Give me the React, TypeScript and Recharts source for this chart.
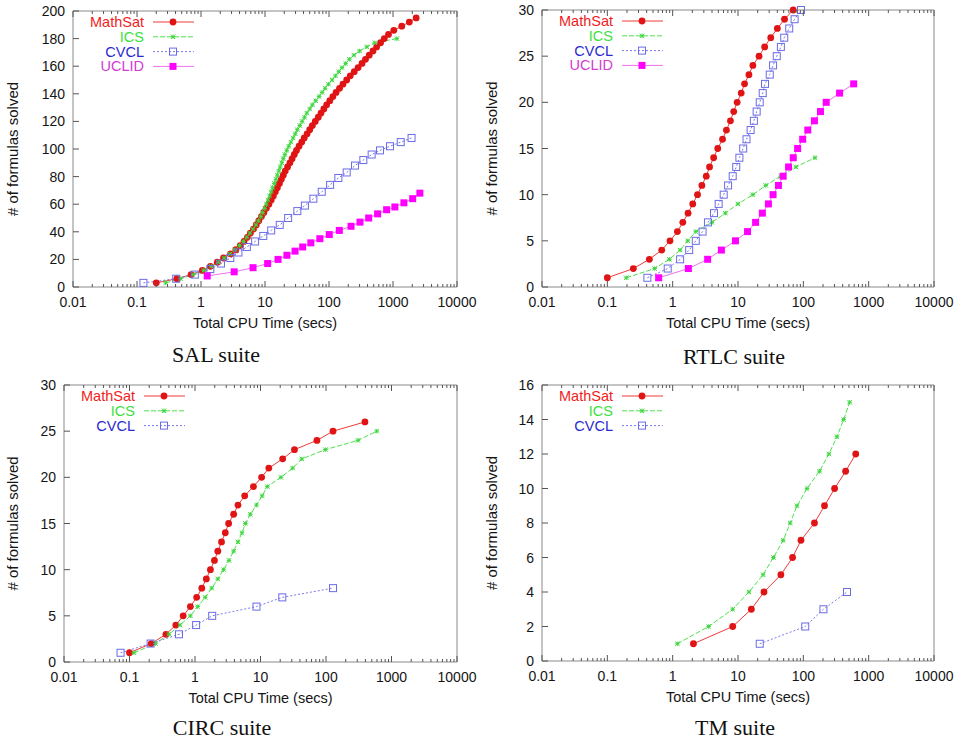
import React from 'react';
import { LineChart, Line, XAxis, YAxis } from 'recharts';

// ---------- tick labels ----------
const X_MAJOR = [0.01, 0.1, 1, 10, 100, 1000, 10000];
const X_MINOR_MULT = [2, 3, 4, 5, 6, 7, 8, 9];
const SAL_Y = [0, 20, 40, 60, 80, 100, 120, 140, 160, 180, 200];
const RTLC_Y = [0, 5, 10, 15, 20, 25, 30];
const CIRC_Y = [0, 5, 10, 15, 20, 25, 30];
const TM_Y = [0, 2, 4, 6, 8, 10, 12, 14, 16];

const X_LABEL = 'Total CPU Time (secs)';
const Y_LABEL = '# of formulas solved';
const TITLES = ['SAL suite', 'RTLC suite', 'CIRC suite', 'TM suite'];

type P = { t: number; n: number };

// ---------- SAL suite ----------
const salMathSat: P[] = [
  { t: 0.2, n: 3 }, { t: 0.42, n: 6 }, { t: 0.7, n: 9 }, { t: 1.05, n: 12 }, { t: 1.4, n: 15 },
  { t: 1.8, n: 18 }, { t: 2.25, n: 21 }, { t: 2.9, n: 24 }, { t: 3.5, n: 27 }, { t: 4.1, n: 30 },
  { t: 4.7, n: 33 }, { t: 5.3, n: 36 }, { t: 5.9, n: 39 }, { t: 6.6, n: 42 }, { t: 7.3, n: 45 },
  { t: 8.0, n: 48 }, { t: 8.8, n: 51 }, { t: 9.6, n: 54 }, { t: 10.5, n: 57 }, { t: 11.5, n: 60 },
  { t: 12.5, n: 63 }, { t: 13.5, n: 66 }, { t: 14.5, n: 69 }, { t: 15.6, n: 72 }, { t: 16.8, n: 75 },
  { t: 18, n: 78 }, { t: 19.3, n: 81 }, { t: 20.7, n: 84 }, { t: 22.5, n: 87 }, { t: 24.5, n: 90 },
  { t: 26.5, n: 93 }, { t: 28.7, n: 96 }, { t: 31, n: 99 }, { t: 34, n: 102 }, { t: 37.5, n: 105 },
  { t: 41, n: 108 }, { t: 45.5, n: 111 }, { t: 50, n: 114 }, { t: 55, n: 117 }, { t: 61, n: 120 },
  { t: 68, n: 123 }, { t: 75, n: 126 }, { t: 83, n: 129 }, { t: 92, n: 132 }, { t: 103, n: 135 },
  { t: 115, n: 138 }, { t: 129, n: 141 }, { t: 146, n: 144 }, { t: 165, n: 147 }, { t: 189, n: 150 },
  { t: 215, n: 153 }, { t: 248, n: 156 }, { t: 285, n: 159 }, { t: 328, n: 162 }, { t: 372, n: 165 },
  { t: 425, n: 168 }, { t: 487, n: 171 }, { t: 555, n: 174 }, { t: 640, n: 177 }, { t: 730, n: 180 },
  { t: 850, n: 183 }, { t: 1030, n: 186 }, { t: 1370, n: 189 }, { t: 1800, n: 192 }, { t: 2300, n: 195 },
];
const salICS: P[] = [
  { t: 0.28, n: 3 }, { t: 0.48, n: 6 }, { t: 0.75, n: 9 }, { t: 1.1, n: 12 }, { t: 1.45, n: 15 },
  { t: 1.85, n: 18 }, { t: 2.3, n: 21 }, { t: 2.85, n: 24 }, { t: 3.4, n: 27 }, { t: 4.0, n: 30 },
  { t: 4.6, n: 33 }, { t: 5.2, n: 36 }, { t: 5.8, n: 39 }, { t: 6.5, n: 42 }, { t: 7.2, n: 45 },
  { t: 7.9, n: 48 }, { t: 8.6, n: 51 }, { t: 9.2, n: 54 }, { t: 9.9, n: 57 }, { t: 10.5, n: 60 },
  { t: 11.1, n: 63 }, { t: 11.8, n: 66 }, { t: 12.5, n: 69 }, { t: 13.2, n: 72 }, { t: 14.0, n: 75 },
  { t: 14.8, n: 78 }, { t: 15.6, n: 81 }, { t: 16.4, n: 84 }, { t: 17.3, n: 87 }, { t: 18.3, n: 90 },
  { t: 19.3, n: 93 }, { t: 20.5, n: 96 }, { t: 21.9, n: 99 }, { t: 23.5, n: 102 }, { t: 25.4, n: 105 },
  { t: 27.5, n: 108 }, { t: 29.7, n: 111 }, { t: 32, n: 114 }, { t: 35, n: 117 }, { t: 38, n: 120 },
  { t: 41.5, n: 123 }, { t: 45, n: 126 }, { t: 50, n: 129 }, { t: 55, n: 132 }, { t: 62, n: 135 },
  { t: 70, n: 138 }, { t: 78, n: 141 }, { t: 87, n: 144 }, { t: 98, n: 147 }, { t: 112, n: 150 },
  { t: 126, n: 153 }, { t: 142, n: 156 }, { t: 160, n: 159 }, { t: 182, n: 162 }, { t: 208, n: 165 },
  { t: 245, n: 168 }, { t: 300, n: 171 }, { t: 390, n: 174 }, { t: 520, n: 177 }, { t: 1150, n: 180 },
];
const salCVCL: P[] = [
  { t: 0.126, n: 3 }, { t: 0.41, n: 6 }, { t: 0.8, n: 9 }, { t: 1.4, n: 13 }, { t: 2.05, n: 17 },
  { t: 2.87, n: 21 }, { t: 3.85, n: 25 }, { t: 5.2, n: 29 }, { t: 7.0, n: 33 }, { t: 9.4, n: 37 },
  { t: 12.5, n: 41 }, { t: 17, n: 45 }, { t: 23, n: 50 }, { t: 32, n: 55 }, { t: 42, n: 59 },
  { t: 57, n: 64 }, { t: 77, n: 69 }, { t: 104, n: 74 }, { t: 140, n: 79 }, { t: 189, n: 83 },
  { t: 255, n: 88 }, { t: 344, n: 92 }, { t: 464, n: 96 }, { t: 627, n: 99 }, { t: 898, n: 102 },
  { t: 1320, n: 105 }, { t: 1950, n: 108 },
];
const salUCLID: P[] = [
  { t: 1.25, n: 8 }, { t: 3.3, n: 11 }, { t: 6.5, n: 14 }, { t: 11, n: 17 }, { t: 16, n: 20 },
  { t: 22, n: 23 }, { t: 29.5, n: 26 }, { t: 38.8, n: 29 }, { t: 52, n: 32 }, { t: 72, n: 35 },
  { t: 101, n: 38 }, { t: 145, n: 41 }, { t: 221, n: 44 }, { t: 305, n: 47 }, { t: 417, n: 50 },
  { t: 575, n: 53 }, { t: 795, n: 56 }, { t: 1070, n: 58 }, { t: 1480, n: 61 }, { t: 2030, n: 64 },
  { t: 2630, n: 68 },
];

// ---------- RTLC suite ----------
const rtlcMathSat: P[] = [
  { t: 0.1, n: 1 }, { t: 0.25, n: 2 }, { t: 0.44, n: 3 }, { t: 0.68, n: 4 }, { t: 0.91, n: 5 },
  { t: 1.18, n: 6 }, { t: 1.43, n: 7 }, { t: 1.72, n: 8 }, { t: 2.03, n: 9 }, { t: 2.4, n: 10 },
  { t: 2.8, n: 11 }, { t: 3.27, n: 12 }, { t: 3.67, n: 13 }, { t: 4.24, n: 14 }, { t: 4.9, n: 15 },
  { t: 5.8, n: 16 }, { t: 6.65, n: 17 }, { t: 7.66, n: 18 }, { t: 8.6, n: 19 }, { t: 9.7, n: 20 },
  { t: 11.2, n: 21 }, { t: 12.6, n: 22 }, { t: 14.7, n: 23 }, { t: 16.9, n: 24 }, { t: 21, n: 25 },
  { t: 25.6, n: 26 }, { t: 31.7, n: 27 }, { t: 40, n: 28 }, { t: 51.5, n: 29 }, { t: 70, n: 30 },
];
const rtlcICS: P[] = [
  { t: 0.195, n: 1 }, { t: 0.53, n: 2 }, { t: 0.89, n: 3 }, { t: 1.3, n: 4 }, { t: 1.7, n: 5 },
  { t: 2.26, n: 6 }, { t: 4.0, n: 7 }, { t: 6.4, n: 8 }, { t: 10, n: 9 }, { t: 16.9, n: 10 },
  { t: 26.6, n: 11 }, { t: 45, n: 12 }, { t: 77, n: 13 }, { t: 151, n: 14 },
];
const rtlcCVCL: P[] = [
  { t: 0.41, n: 1 }, { t: 0.84, n: 2 }, { t: 1.3, n: 3 }, { t: 1.79, n: 4 }, { t: 2.26, n: 5 },
  { t: 2.87, n: 6 }, { t: 3.47, n: 7 }, { t: 4.29, n: 8 }, { t: 5.06, n: 9 }, { t: 6.04, n: 10 },
  { t: 7.05, n: 11 }, { t: 8.3, n: 12 }, { t: 9.4, n: 13 }, { t: 10.5, n: 14 }, { t: 12, n: 15 },
  { t: 13.5, n: 16 }, { t: 15.6, n: 17 }, { t: 17.5, n: 18 }, { t: 19.3, n: 19 }, { t: 21.5, n: 20 },
  { t: 23.9, n: 21 }, { t: 25.9, n: 22 }, { t: 30.6, n: 23 }, { t: 34.4, n: 24 }, { t: 39.2, n: 25 },
  { t: 45.3, n: 26 }, { t: 51, n: 27 }, { t: 60.8, n: 28 }, { t: 73.5, n: 29 }, { t: 92, n: 30 },
];
const rtlcUCLID: P[] = [
  { t: 0.61, n: 1 }, { t: 1.74, n: 2 }, { t: 3.43, n: 3 }, { t: 5.57, n: 4 }, { t: 9.15, n: 5 },
  { t: 14, n: 6 }, { t: 18.6, n: 7 }, { t: 23.6, n: 8 }, { t: 29.2, n: 9 }, { t: 34.4, n: 10 },
  { t: 41.6, n: 11 }, { t: 49.1, n: 12 }, { t: 59.4, n: 13 }, { t: 70.1, n: 14 }, { t: 81.8, n: 15 },
  { t: 97.7, n: 16 }, { t: 117, n: 17 }, { t: 148, n: 18 }, { t: 183, n: 19 }, { t: 224, n: 20 },
  { t: 359, n: 21 }, { t: 590, n: 22 },
];

// ---------- CIRC suite ----------
const circMathSat: P[] = [
  { t: 0.1, n: 1 }, { t: 0.215, n: 2 }, { t: 0.36, n: 3 }, { t: 0.51, n: 4 }, { t: 0.66, n: 5 },
  { t: 0.85, n: 6 }, { t: 1.06, n: 7 }, { t: 1.27, n: 8 }, { t: 1.49, n: 9 }, { t: 1.72, n: 10 },
  { t: 1.98, n: 11 }, { t: 2.23, n: 12 }, { t: 2.54, n: 13 }, { t: 2.9, n: 14 }, { t: 3.26, n: 15 },
  { t: 3.89, n: 16 }, { t: 4.53, n: 17 }, { t: 5.74, n: 18 }, { t: 7.8, n: 19 }, { t: 10.4, n: 20 },
  { t: 13.4, n: 21 }, { t: 21.8, n: 22 }, { t: 33, n: 23 }, { t: 72.7, n: 24 }, { t: 128, n: 25 },
  { t: 393, n: 26 },
];
const circICS: P[] = [
  { t: 0.117, n: 1 }, { t: 0.25, n: 2 }, { t: 0.4, n: 3 }, { t: 0.59, n: 4 }, { t: 0.85, n: 5 },
  { t: 1.1, n: 6 }, { t: 1.43, n: 7 }, { t: 1.8, n: 8 }, { t: 2.23, n: 9 }, { t: 2.73, n: 10 },
  { t: 3.3, n: 11 }, { t: 3.89, n: 12 }, { t: 4.53, n: 13 }, { t: 5.22, n: 14 }, { t: 5.88, n: 15 },
  { t: 7.0, n: 16 }, { t: 8.68, n: 17 }, { t: 10.6, n: 18 }, { t: 12.7, n: 19 }, { t: 20.5, n: 20 },
  { t: 31, n: 21 }, { t: 42.7, n: 22 }, { t: 97.7, n: 23 }, { t: 307, n: 24 }, { t: 595, n: 25 },
];
const circCVCL: P[] = [
  { t: 0.073, n: 1 }, { t: 0.21, n: 2 }, { t: 0.57, n: 3 }, { t: 1.04, n: 4 }, { t: 1.83, n: 5 },
  { t: 8.68, n: 6 }, { t: 21.5, n: 7 }, { t: 128, n: 8 },
];

// ---------- TM suite ----------
const tmMathSat: P[] = [
  { t: 2.08, n: 1 }, { t: 8.3, n: 2 }, { t: 16, n: 3 }, { t: 25, n: 4 }, { t: 45.3, n: 5 },
  { t: 68.4, n: 6 }, { t: 92, n: 7 }, { t: 148, n: 8 }, { t: 211, n: 9 }, { t: 301, n: 10 },
  { t: 444, n: 11 }, { t: 634, n: 12 },
];
const tmICS: P[] = [
  { t: 1.18, n: 1 }, { t: 3.55, n: 2 }, { t: 8.3, n: 3 }, { t: 14.7, n: 4 }, { t: 24.2, n: 5 },
  { t: 34.9, n: 6 }, { t: 49.2, n: 7 }, { t: 63, n: 8 }, { t: 80, n: 9 }, { t: 114, n: 10 },
  { t: 177, n: 11 }, { t: 246, n: 12 }, { t: 327, n: 13 }, { t: 414, n: 14 }, { t: 512, n: 15 },
];
const tmCVCL: P[] = [
  { t: 21.5, n: 1 }, { t: 107, n: 2 }, { t: 203, n: 3 }, { t: 466, n: 4 },
];

// ---------- styles ----------
type Kind = 'circle' | 'star' | 'open' | 'square';
const STYLES: Record<string, { line: string; text: string; mark: string; kind: Kind; dash?: string }> = {
  MathSat: { line: '#f03a3a', text: '#f01c1c', mark: '#e01414', kind: 'circle' },
  ICS: { line: '#4fe04f', text: '#3ee03e', mark: '#3ed63e', kind: 'star', dash: '5 2' },
  CVCL: { line: '#7a7aee', text: '#2a2ad0', mark: '#6b6be6', kind: 'open', dash: '2 2' },
  UCLID: { line: '#f070f0', text: '#d43ad4', mark: '#ff00ff', kind: 'square' },
};

const Marker = ({ kind, cx, cy, color }: { kind: Kind; cx: number; cy: number; color: string }) => {
  if (cx == null || cy == null || isNaN(cx) || isNaN(cy)) return null;
  if (kind === 'circle') return <circle cx={cx} cy={cy} r={3.4} fill={color} />;
  if (kind === 'square') return <rect x={cx - 3.5} y={cy - 3.5} width={7} height={7} fill={color} />;
  if (kind === 'open')
    return <rect x={cx - 3.5} y={cy - 3.5} width={7} height={7} fill="none" stroke={color} strokeWidth={1} />;
  const s = 2.2;
  return (
    <g stroke={color} strokeWidth={1}>
      <line x1={cx - s} y1={cy} x2={cx + s} y2={cy} />
      <line x1={cx} y1={cy - s} x2={cx} y2={cy + s} />
      <line x1={cx - s} y1={cy - s} x2={cx + s} y2={cy + s} />
      <line x1={cx - s} y1={cy + s} x2={cx + s} y2={cy - s} />
    </g>
  );
};

type Panel = {
  ox: number; oy: number; l: number; t: number; r: number; b: number;
  yMax: number; yTicks: number[]; ylabX: number;
  series: { name: string; data: P[] }[];
  title: string; titleX: number; titleY: number;
};

const PANELS: Panel[] = [
  {
    ox: 0, oy: 0, l: 73, t: 11, r: 457, b: 287, yMax: 200, yTicks: SAL_Y, ylabX: 18,
    series: [
      { name: 'MathSat', data: salMathSat }, { name: 'ICS', data: salICS },
      { name: 'CVCL', data: salCVCL }, { name: 'UCLID', data: salUCLID },
    ],
    title: TITLES[0], titleX: 216, titleY: 362,
  },
  {
    ox: 480, oy: 0, l: 62, t: 10, r: 454, b: 287, yMax: 30, yTicks: RTLC_Y, ylabX: 17,
    series: [
      { name: 'MathSat', data: rtlcMathSat }, { name: 'ICS', data: rtlcICS },
      { name: 'CVCL', data: rtlcCVCL }, { name: 'UCLID', data: rtlcUCLID },
    ],
    title: TITLES[1], titleX: 734, titleY: 364,
  },
  {
    ox: 0, oy: 370, l: 64, t: 15, r: 457, b: 292, yMax: 30, yTicks: CIRC_Y, ylabX: 18,
    series: [
      { name: 'MathSat', data: circMathSat }, { name: 'ICS', data: circICS }, { name: 'CVCL', data: circCVCL },
    ],
    title: TITLES[2], titleX: 222, titleY: 735,
  },
  {
    ox: 480, oy: 370, l: 62, t: 15, r: 454, b: 291, yMax: 16, yTicks: TM_Y, ylabX: 17,
    series: [
      { name: 'MathSat', data: tmMathSat }, { name: 'ICS', data: tmICS }, { name: 'CVCL', data: tmCVCL },
    ],
    title: TITLES[3], titleX: 735, titleY: 735,
  },
];

const X_TICKS_ALL = [
  ...X_MAJOR,
  ...X_MAJOR.slice(0, -1).flatMap((d) => X_MINOR_MULT.map((m) => d * m)),
];

const W = 480;
const H = 370;
const AXIS = '#8a8a8a';
const TICK = '#555';
const TXT = '#151515';
const FS = 14;

const isMajor = (v: number) => X_MAJOR.some((m) => Math.abs(Math.log10(v) - Math.log10(m)) < 1e-9);

const ChartPanel = ({ p }: { p: Panel }) => {
  const { l, t, r, b } = p;
  const xb = (props: any) => {
    const { x, payload } = props;
    const major = isMajor(payload.value);
    return (
      <g>
        <line x1={x} x2={x} y1={b} y2={b - (major ? 6 : 3)} stroke={TICK} />
        {major && (
          <text x={x} y={b + 20} textAnchor="middle" fontSize={FS} fill={TXT}>
            {String(payload.value)}
          </text>
        )}
      </g>
    );
  };
  const xt = (props: any) => {
    const { x, payload } = props;
    const major = isMajor(payload.value);
    return <line x1={x} x2={x} y1={t} y2={t + (major ? 6 : 3)} stroke={TICK} />;
  };
  const yl = (props: any) => {
    const { y, payload } = props;
    return (
      <g>
        <line x1={l} x2={l + 6} y1={y} y2={y} stroke={TICK} />
        <text x={l - 8} y={y + 5} textAnchor="end" fontSize={FS} fill={TXT}>
          {String(payload.value)}
        </text>
      </g>
    );
  };
  const yr = (props: any) => {
    const { y } = props;
    return <line x1={r} x2={r - 6} y1={y} y2={y} stroke={TICK} />;
  };
  const cx = (l + r) / 2;
  const cy = (t + b) / 2;
  return (
    <div style={{ position: 'absolute', left: p.ox, top: p.oy, width: W, height: H }}>
      <LineChart
        width={W}
        height={H}
        margin={{ top: t - 1, right: W - r - 1, bottom: H - b - 50, left: 0 }}
      >
        <XAxis
          xAxisId="b"
          dataKey="t"
          type="number"
          scale="log"
          domain={[0.01, 10000]}
          allowDataOverflow
          ticks={X_TICKS_ALL}
          interval={0}
          height={50}
          tickLine={false}
          axisLine={{ stroke: AXIS }}
          tick={xb}
          label={() => (
            <text x={cx} y={b + 41} textAnchor="middle" fontSize={14.5} fill={TXT}>
              {X_LABEL}
            </text>
          )}
        />
        <XAxis
          xAxisId="t"
          orientation="top"
          dataKey="t"
          type="number"
          scale="log"
          domain={[0.01, 10000]}
          allowDataOverflow
          ticks={X_TICKS_ALL}
          interval={0}
          height={1}
          tickLine={false}
          axisLine={{ stroke: AXIS }}
          tick={xt}
        />
        <YAxis
          yAxisId="l"
          type="number"
          domain={[0, p.yMax]}
          ticks={p.yTicks}
          interval={0}
          width={l}
          tickLine={false}
          axisLine={{ stroke: AXIS }}
          tick={yl}
          label={() => (
            <text
              x={p.ylabX}
              y={cy}
              textAnchor="middle"
              fontSize={15}
              fill={TXT}
              transform={`rotate(-90 ${p.ylabX} ${cy})`}
            >
              {Y_LABEL}
            </text>
          )}
        />
        <YAxis
          yAxisId="r"
          orientation="right"
          type="number"
          domain={[0, p.yMax]}
          ticks={p.yTicks}
          interval={0}
          width={1}
          tickLine={false}
          axisLine={{ stroke: AXIS }}
          tick={yr}
        />
        {p.series.map((s) => {
          const st = STYLES[s.name];
          return (
            <Line
              key={s.name}
              data={s.data}
              dataKey="n"
              xAxisId="b"
              yAxisId="l"
              type="linear"
              stroke={st.line}
              strokeWidth={1}
              strokeDasharray={st.dash}
              isAnimationActive={false}
              activeDot={false}
              dot={(d: any) => (
                <Marker key={`${s.name}-${d.index}`} kind={st.kind} cx={d.cx} cy={d.cy} color={st.mark} />
              )}
            />
          );
        })}
      </LineChart>
    </div>
  );
};

const Overlay = () => (
  <svg
    width={965}
    height={742}
    style={{ position: 'absolute', left: 0, top: 0, pointerEvents: 'none' }}
  >
    {PANELS.map((p, pi) => (
      <g key={pi}>
        {p.series.map((s, i) => {
          const st = STYLES[s.name];
          const y = p.oy + p.t + 11 + i * 14.8;
          const x0 = p.ox + p.l;
          return (
            <g key={s.name}>
              <text x={x0 + 71} y={y + 5} textAnchor="end" fontSize={14.5} fill={st.text}>
                {s.name}
              </text>
              <line x1={x0 + 80} x2={x0 + 121} y1={y} y2={y} stroke={st.line} strokeDasharray={st.dash} />
              <Marker kind={st.kind} cx={x0 + 100} cy={y} color={st.mark} />
            </g>
          );
        })}
        <text
          x={p.titleX}
          y={p.titleY}
          textAnchor="middle"
          fontSize={22}
          fill="#111"
          style={{ fontFamily: '"Liberation Serif", "Times New Roman", serif' }}
        >
          {p.title}
        </text>
      </g>
    ))}
  </svg>
);

export default function App() {
  return (
    <div
      style={{
        position: 'absolute',
        left: 0,
        top: 0,
        width: 965,
        height: 742,
        background: '#fff',
        fontFamily: '"Liberation Sans", Arial, Helvetica, sans-serif',
      }}
    >
      {PANELS.map((p, i) => (
        <ChartPanel key={i} p={p} />
      ))}
      <Overlay />
    </div>
  );
}
